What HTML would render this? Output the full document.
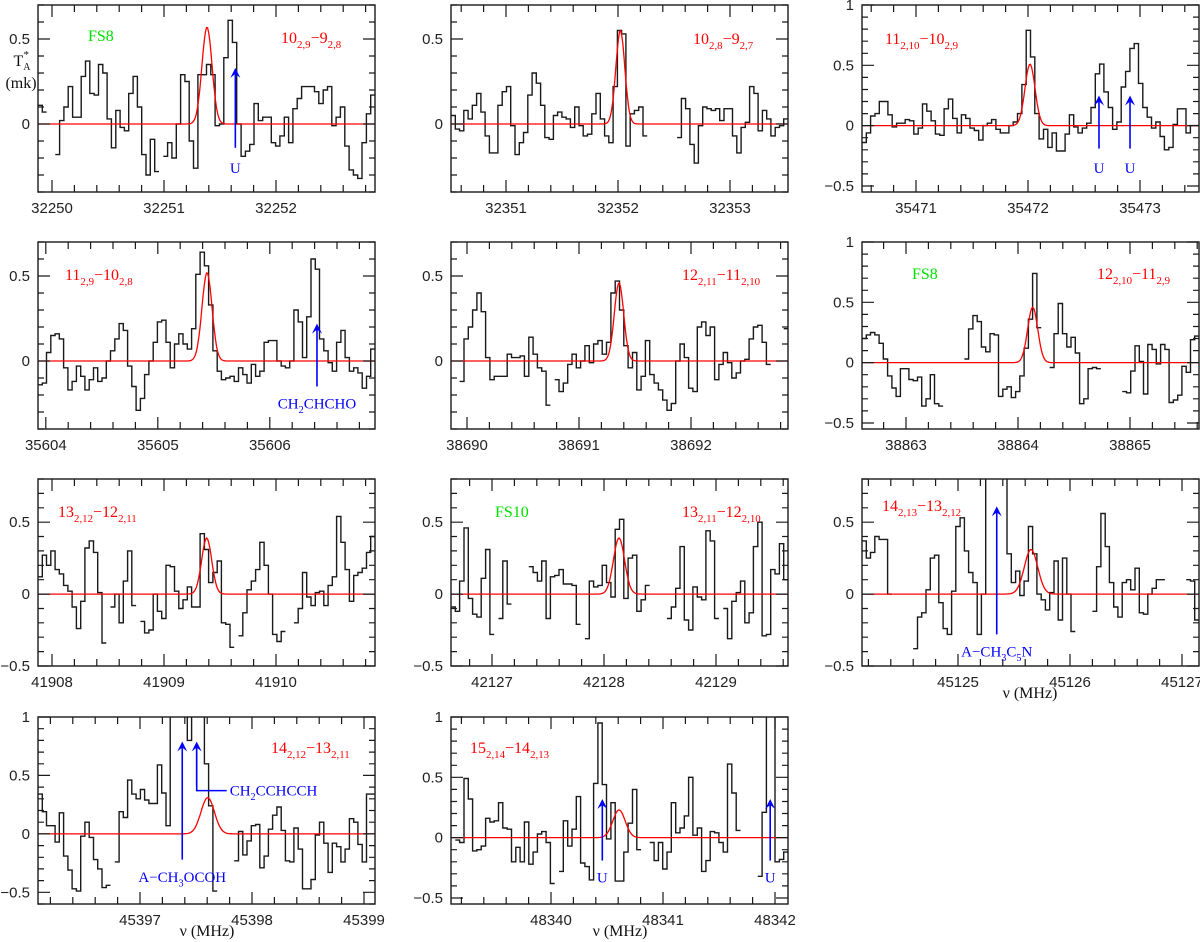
<!DOCTYPE html>
<html><head><meta charset="utf-8"><title>Spectra</title>
<style>
html,body{margin:0;padding:0;background:#fff;}
svg{display:block;}
text{font-family:"Liberation Serif",serif;}
.tick{font-family:"Liberation Sans",sans-serif;font-size:15px;fill:#222;}
</style></head>
<body>
<svg id="fig" xmlns="http://www.w3.org/2000/svg" width="1200" height="942" viewBox="0 0 1200 942"></svg>
<script>
// ---- data (antenna temperature, mK) per panel, uniform channels across panel ----
const spec1 = [0.11,0.07,null,null,-0.18,0.02,0.1,0.22,0.04,0.04,0.28,0.37,0.18,0.17,0.35,0.3,0.03,-0.14,0.08,-0.02,-0.04,0.18,0.28,0.1,-0.18,-0.3,-0.09,-0.28,null,-0.19,-0.11,-0.2,0.0,0.29,0.25,-0.1,-0.26,0.29,0.29,0.35,0.29,-0.01,0.0,0.39,0.61,0.48,0.0,-0.19,-0.16,-0.12,0.12,0.02,0.04,0.04,-0.11,-0.13,-0.07,0.04,-0.11,0.09,0.15,0.22,0.22,0.22,0.19,0.12,0.2,0.22,-0.01,0.04,0.1,-0.13,-0.27,-0.3,-0.32,-0.11,0.06,0.17];
const spec2 = [0.05,-0.03,-0.04,0.08,0.03,0.11,0.18,0.07,-0.07,-0.17,-0.17,0.11,0.19,0.22,-0.01,-0.18,-0.11,-0.05,0.17,0.3,0.24,0.11,-0.08,-0.09,0.05,0.07,0.04,0.03,-0.02,0.1,-0.01,-0.07,-0.06,0.06,0.18,0.03,-0.07,-0.11,0.22,0.55,0.53,-0.13,0.06,0.08,0.1,-0.07,null,null,null,null,null,null,null,-0.08,0.15,0.09,-0.12,-0.23,-0.01,0.1,0.09,0.08,0.09,0.02,0.09,0.09,-0.07,-0.17,-0.02,0.01,0.22,0.18,-0.04,0.08,0.03,-0.07,-0.02,-0.01,0.03];
const spec3 = [-0.14,-0.06,0.08,0.1,0.2,0.2,0.09,-0.01,0.02,0.02,0.05,0.04,-0.07,-0.02,0.18,0.12,0.04,-0.07,-0.08,0.14,0.22,0.06,-0.06,0.09,0.06,-0.02,-0.04,-0.12,0,0.02,0.05,-0.03,-0.06,-0.06,0,0.03,0.1,0.34,0.79,0.57,0.1,-0.11,-0.03,-0.18,-0.06,-0.21,-0.21,-0.07,0.09,-0.01,-0.06,-0.02,0.02,0.15,0.43,0.51,0.28,0.15,-0.03,0.03,0.32,0.45,0.64,0.68,0.35,0.15,0.07,-0.02,0.03,-0.09,-0.2,-0.18,0.01,0.14,0.14,-0.06,0,0];
const spec4 = [-0.14,-0.13,0.05,0.15,0.16,0.13,-0.04,-0.17,-0.12,-0.03,-0.09,-0.17,-0.11,-0.04,-0.12,-0.1,0,0.06,0.13,0.22,0.18,-0.03,-0.15,-0.29,-0.22,-0.08,0,0.11,0.23,0.24,0.11,-0.04,0.1,0.16,0.1,0.07,0.19,0.51,0.64,0.56,0.33,0.06,-0.06,-0.11,-0.1,-0.09,-0.12,-0.04,-0.08,-0.13,-0.02,-0.09,-0.06,0.11,0.12,0.12,0,-0.03,-0.04,0,0.3,0.23,0.02,0.26,0.6,0.54,0.13,0.06,-0.01,-0.06,0.11,0.18,0.02,-0.06,-0.04,-0.07,-0.16,-0.09,0.07];
const spec5 = [null,null,-0.12,0.13,0.2,0.3,0.4,0.29,0.02,-0.11,-0.09,-0.09,-0.09,0.04,0.02,0.02,0.03,-0.09,0.14,0.04,-0.04,-0.06,-0.26,null,-0.11,-0.18,-0.13,-0.02,0.04,-0.04,0,0.09,-0.01,0.1,0.12,0.04,0.11,0.4,0.47,0.3,0.09,-0.04,0.05,-0.17,-0.09,0.12,-0.08,-0.13,-0.17,-0.23,-0.29,-0.25,0,0.1,0.02,-0.16,-0.18,0.2,0.23,0.15,0.2,-0.11,-0.02,0.05,-0.01,-0.1,-0.07,0,0.01,0.13,0.2,0.21,0.11,-0.02,null,null,null,0.19];
const spec6 = [0.2,0.23,0.25,0.23,0.16,0.03,-0.11,-0.21,-0.28,-0.05,-0.05,-0.14,-0.15,-0.12,-0.36,-0.3,-0.1,-0.34,-0.36,null,null,null,null,null,0.03,0.28,0.39,0.34,0.13,0.09,0.24,0.23,-0.28,-0.22,-0.2,-0.29,-0.24,-0.11,0.12,0.36,0.74,0.29,null,null,-0.04,0.24,0.49,0.24,0.13,0.21,0.08,-0.34,-0.3,-0.05,-0.04,-0.05,null,null,null,null,null,-0.24,-0.25,-0.07,0.14,0.01,-0.26,0.15,0.11,-0.01,0.15,0.11,-0.33,-0.31,-0.27,-0.03,-0.08,0.19,0.22];
const spec7 = [0.12,0.27,0.2,0.3,0.17,0.14,0.06,0.02,-0.09,-0.24,-0.05,0.32,0.37,0.29,0.01,-0.34,null,-0.09,0,-0.2,0.09,0.3,-0.08,null,-0.19,-0.27,-0.25,0,-0.12,-0.17,0.2,0.19,0.02,-0.1,-0.04,0.05,-0.09,-0.09,0.42,0.31,0.08,0.15,0.23,-0.2,-0.21,-0.37,null,-0.29,-0.13,0.03,0.09,0.17,0.36,0.2,0,-0.28,-0.33,-0.26,null,null,-0.2,-0.1,0.15,-0.02,-0.08,0.01,0.02,-0.08,0.06,0.12,0.54,0.36,0.17,-0.05,0.13,0.15,0.18,0.29,0.4];
const spec8 = [-0.09,-0.12,0.09,0.46,-0.03,-0.14,-0.16,0.11,0.31,-0.28,null,-0.17,0.23,-0.07,null,null,null,null,0.19,0.15,0.09,0.23,-0.17,0.12,0.13,0.17,0.07,0.07,0.06,-0.21,null,-0.31,0.09,0.05,0.06,0.2,0.08,-0.02,0.45,0.52,-0.03,0.25,0.27,-0.12,-0.04,0.06,null,null,null,null,-0.17,-0.09,0.04,0.33,-0.18,-0.25,0.05,-0.02,-0.04,0.44,0.37,-0.17,null,-0.1,-0.31,-0.05,0.01,0.09,-0.2,-0.13,0.33,0.5,-0.29,-0.28,0.17,0.14,0.35,0.1];
const spec9 = [0.37,0.25,0.29,0.4,0.38,0.38,0,null,null,null,null,null,-0.38,-0.16,-0.13,0.03,0.25,0.27,-0.06,-0.24,-0.28,0.02,0.47,0.53,0.3,0.15,0.08,-0.28,0,1.2,1.2,1.2,1.2,1.2,0.28,0.08,0.16,-0.01,0.09,0.47,0.28,0,-0.04,-0.11,0.01,0.23,-0.18,0.25,0,-0.26,null,null,null,null,-0.12,0.19,0.56,0.33,0.08,-0.09,-0.16,0.08,0.1,0.03,0.18,-0.13,-0.14,0,0.04,0.1,0.1,null,null,null,null,null,0.1,0.09,-0.18];
const spec10 = [0.34,0.19,0.07,0.07,-0.07,0.18,-0.19,-0.31,-0.47,-0.49,-0.02,0.1,-0.03,-0.22,-0.3,-0.46,-0.44,null,-0.24,0.19,0.14,0.46,0.34,0.3,0.38,0.29,0.26,0.26,0.59,0.35,0.07,1.2,1.2,1.2,1.2,0.8,1.2,1.2,1.2,0.6,0.24,-0.49,null,null,null,null,-0.23,0.02,-0.18,-0.06,0.07,0.08,-0.29,-0.19,0.04,0.16,0.23,0.03,-0.23,-0.24,0.05,-0.13,-0.47,-0.47,-0.39,-0.01,0.1,-0.08,-0.33,-0.08,-0.11,-0.24,-0.13,0.13,0.1,-0.09,-0.24,0.34,0.34];
const spec11 = [null,-0.02,-0.04,0.49,0.32,-0.11,-0.1,-0.07,0.16,0.13,0.14,0.29,0.08,0.07,-0.2,-0.08,-0.2,0.13,-0.22,-0.12,0.03,0.05,-0.04,-0.38,null,-0.28,0.14,-0.07,0.07,0.34,-0.21,-0.24,-0.35,0.45,0.95,0.44,-0.01,0.29,-0.36,-0.36,-0.12,0.12,0.4,-0.1,null,null,-0.04,-0.19,-0.04,-0.26,-0.12,0.29,0.04,0.08,0.18,0.5,0.02,0.08,-0.28,-0.19,0.05,0.04,-0.04,-0.12,0.61,0.37,0.06,null,null,null,null,-0.32,0.21,1.2,1.2,-0.2,-0.18,-0.12];

// Gaussian fit parameters (MHz, mK, MHz)
const fitCenters = [32251.384,32352.021,35472.018,35605.439,38691.357,38864.131,41909.381,42128.134,45125.652,45397.604,48340.607];
const fitAmps    = [0.57,0.55,0.51,0.52,0.46,0.46,0.39,0.39,0.31,0.31,0.23];
const fitSigmas  = [0.045,0.04,0.045,0.045,0.042,0.045,0.045,0.05,0.06,0.06,0.055];
// left-edge frequency of each panel (MHz) and y ranges
const freqStart = [32249.875,32350.509,35470.518,35603.93,38689.857,38862.607,41907.875,42126.634,45124.143,45396.089,48339.107];
const yMins = [-0.4,-0.4,-0.55,-0.4,-0.4,-0.55,-0.5,-0.5,-0.5,-0.6,-0.55];
const yMaxs = [0.7,0.7,1.0,0.7,0.7,1.0,0.8,0.8,0.8,1.0,1.0];
const yTickLabels = [["0","0.5"],["0","0.5"],["-0.5","0","0.5","1"],["0","0.5"],["0","0.5"],["-0.5","0","0.5","1"],["-0.5","0","0.5"],["-0.5","0","0.5"],["-0.5","0","0.5"],["-0.5","0","0.5","1"],["-0.5","0","0.5","1"]];
// transition labels: [upper, sub, lower, sub]
const transLabels = [["10","2,9","9","2,8"],["10","2,8","9","2,7"],["11","2,10","10","2,9"],["11","2,9","10","2,8"],["12","2,11","11","2,10"],["12","2,10","11","2,9"],["13","2,12","12","2,11"],["13","2,11","12","2,10"],["14","2,13","13","2,12"],["14","2,12","13","2,11"],["15","2,14","14","2,13"]];
const fsLabels = ["FS8","","","","","FS8","","FS10","","",""];
// arrows: panel index, frequency, from value, to value, label, label value
const arrowPanel = [0,2,2,3,8,9,9,10,10];
const arrowFreq  = [32251.637,35472.634,35472.911,35606.421,45125.346,45397.377,45397.506,48340.458,48341.957];
const arrowFrom  = [-0.14,-0.19,-0.19,-0.15,-0.28,-0.22,0.42,-0.19,-0.19];
const arrowTo    = [0.33,0.25,0.25,0.22,0.61,0.79,0.79,0.32,0.32];
const arrowText  = ["U","U","U","CH|2|CHCHO","A\u2212CH|3|C|5|N","A\u2212CH|3|OCOH","CH|2|CCHCCH","U","U"];
const arrowTextVal = [-0.26,-0.35,-0.35,-0.25,-0.4,-0.37,0.37,-0.33,-0.33];

// ---- layout (pixels) ----
const colLeft = [38,451,862], rowTop = [5,242,479,717], PW = 337, PH = 187, PXPERMHZ = 112;
const panelCol = [0,1,2,0,1,2,0,1,2,0,1];
const panelRow = [0,0,0,1,1,1,2,2,2,3,3];
const transPos = [[281,43],[693,44],[885,44],[65,280],[682,280],[1097,279],[58,517],[682,517],[882,511],[271,753],[470,753]];
const fsPos = [[88,41],null,null,null,null,[912,279],null,[495,517],null,null,null];
const specs = [spec1,spec2,spec3,spec4,spec5,spec6,spec7,spec8,spec9,spec10,spec11];

const NS = "http://www.w3.org/2000/svg";
const svg = document.getElementById('fig');
function mk(tag, attrs, parent){ const e=document.createElementNS(NS,tag); for(const k in attrs) e.setAttribute(k,attrs[k]); (parent||svg).appendChild(e); return e; }

function subText(parent, x, y, parts, color, size, anchor){
  const t = mk('text',{x:x,y:y,fill:color,'font-size':size,'text-anchor':anchor||'start'},parent);
  parts.forEach((p,i)=>{
    const ts = mk('tspan',{},t);
    if(i%2===1){ ts.setAttribute('font-size', size*0.68); ts.setAttribute('dy', size*0.3); }
    else if(i>0){ ts.setAttribute('dy', -size*0.3); }
    ts.textContent = p;
  });
  return t;
}

for(let p=0;p<11;p++){
  const L = colLeft[panelCol[p]], T = rowTop[panelRow[p]];
  const f0 = freqStart[p], f1 = f0 + PW/PXPERMHZ, ymin=yMins[p], ymax=yMaxs[p];
  const xs = f => L + (f-f0)/(f1-f0)*PW;
  const ys = v => T + (ymax-v)/(ymax-ymin)*PH;
  const g = mk('g',{});
  
  
  const cid='clip'+p;
  const cp = mk('clipPath',{id:cid},g); mk('rect',{x:L,y:T,width:PW,height:PH},cp);

  const data = specs[p]; const ch = (f1-f0)/data.length;
  let d=''; let prev=null;
  data.forEach((v,i)=>{
    if(v===null){ prev=null; return; }
    const xa = xs(f0+i*ch), xb = xs(f0+(i+1)*ch), y = ys(v);
    if(prev===null) d += 'M'+xa.toFixed(1)+','+y.toFixed(1);
    else d += 'L'+xa.toFixed(1)+','+y.toFixed(1);
    d += 'L'+xb.toFixed(1)+','+y.toFixed(1);
    prev=v;
  });
  const sp = mk('path',{d:d,fill:'none',stroke:'#1a1a1a','stroke-width':1.4,'clip-path':'url(#'+cid+')'},g);
  
  

  let fd='';
  for(let k=0;k<=300;k++){
    const f = f0 + (f1-f0)*k/300;
    const v = fitAmps[p]*Math.exp(-0.5*Math.pow((f-fitCenters[p])/fitSigmas[p],2));
    fd += (k?'L':'M')+xs(f).toFixed(1)+','+ys(v).toFixed(1);
  }
  const fp = mk('path',{d:fd,fill:'none',stroke:'#ff0000','stroke-width':1.3,'clip-path':'url(#'+cid+')'},g);
  
  

  const fr = mk('rect',{x:L,y:T,width:PW,height:PH,fill:'none',stroke:'#1a1a1a','stroke-width':1.4},g);
  
  

  let td='';
  for(let k=Math.ceil(f0*5); k<=Math.floor(f1*5); k++){
    const f=k/5, x=xs(f), major=(k%5===0), len=major?12:7;
    td += 'M'+x.toFixed(1)+','+(T+PH)+'v'+(-len)+'M'+x.toFixed(1)+','+T+'v'+len;
    if(major){
      const tl = mk('text',{x:x,y:T+PH+21,'text-anchor':'middle',class:'tick'},g);
      
      
      tl.textContent = String(Math.round(f));
    }
  }
  for(let k=Math.ceil(ymin*10-1e-6); k<=Math.floor(ymax*10+1e-6); k++){
    const y=ys(k/10), major=(k%5===0), len=major?12:6;
    td += 'M'+L+','+y.toFixed(1)+'h'+len+'M'+(L+PW)+','+y.toFixed(1)+'h'+(-len);
  }
  mk('path',{d:td,stroke:'#1a1a1a','stroke-width':1.2,fill:'none'},g);
  yTickLabels[p].forEach(s=>{
    const v=parseFloat(s);
    const tl = mk('text',{x:L-8,y:ys(v)+5,'text-anchor':'end',class:'tick'},g);
    
    
    tl.textContent = s.replace('-','\u2212');
  });

  const tr = transLabels[p];
  const lt = subText(g, transPos[p][0], transPos[p][1], [tr[0],tr[1],'\u2212'+tr[2],tr[3]], '#ff0000', 16);
  
  
  if(fsPos[p]){
    const ft = mk('text',{x:fsPos[p][0],y:fsPos[p][1],fill:'#00e000','font-size':16},g);
    
    
    ft.textContent = fsLabels[p];
  }

  for(let a=0;a<arrowPanel.length;a++){
    if(arrowPanel[a]!==p) continue;
    const x = xs(arrowFreq[a]), y1=ys(arrowFrom[a]), y2=ys(arrowTo[a]);
    const ag = mk('g',{},g);
    
    
    mk('line',{x1:x,y1:y1,x2:x,y2:y2+4,stroke:'#0000ff','stroke-width':1.6},ag);
    mk('path',{d:'M'+x+','+y2+'L'+(x-5)+','+(y2+10)+'L'+x+','+(y2+6)+'L'+(x+5)+','+(y2+10)+'Z',fill:'#0000ff'},ag);
    const parts = arrowText[a].split('|');
    if(arrowText[a].indexOf('CCHCCH')>=0){
      const x2 = x+30, yl = ys(arrowTextVal[a]);
      mk('path',{d:'M'+x+','+(y2+4)+'V'+yl+'H'+x2,fill:'none',stroke:'#0000ff','stroke-width':1.6},ag);
      subText(ag, x2+3, yl+5, parts, '#0000ff', 15);
    } else {
      subText(ag, x, ys(arrowTextVal[a])+5, parts, '#0000ff', 15, 'middle');
    }
  }
}

const yt1 = mk('text',{x:22,y:66,'text-anchor':'middle','font-size':16,fill:'#111'});


const a1=mk('tspan',{},yt1); a1.textContent='T';
const a2=mk('tspan',{'font-size':10,dy:4},yt1); a2.textContent='A';
const a3=mk('tspan',{'font-size':11,dx:-7,dy:-12},yt1); a3.textContent='*';
const yt2 = mk('text',{x:21,y:88,'text-anchor':'middle','font-size':16,fill:'#111'});


yt2.textContent='(mk)';

[[1030,698],[207,936],[620,936]].forEach(pos=>{
  const t = mk('text',{x:pos[0],y:pos[1],'text-anchor':'middle','font-size':16,fill:'#111'});
  
  
  t.textContent='\u03bd (MHz)';
});
</script>
</body></html>
